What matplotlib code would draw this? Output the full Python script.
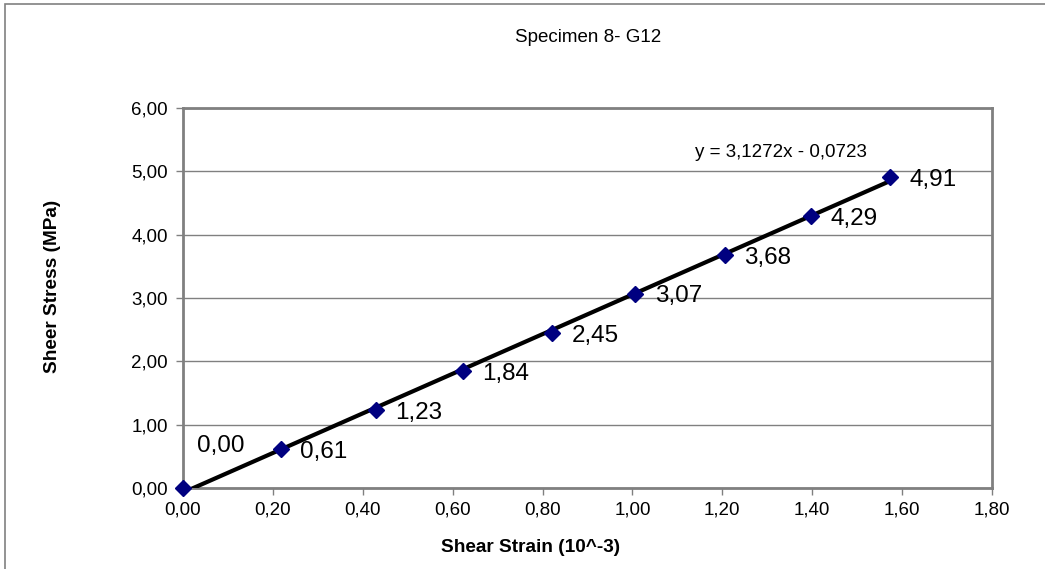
import matplotlib.pyplot as plt
import numpy as np
from matplotlib.ticker import FuncFormatter

plt.rcParams['font.family'] = ['Liberation Sans', 'DejaVu Sans']

# strain (10^-3) and stress (MPa)
strain = [0.0, 0.218, 0.429, 0.623, 0.821, 1.006, 1.206, 1.397, 1.573]
stress = [0.00, 0.61, 1.23, 1.84, 2.45, 3.07, 3.68, 4.29, 4.91]
slope, intercept = 3.1272, -0.0723

W, H = 1045, 569
fig = plt.figure(figsize=(W / 100, H / 100), dpi=100)
ax = fig.add_axes([183 / W, 1 - 488 / H, (992 - 183) / W, (488 - 108) / H])

# outer chart frame
fig.patches.append(plt.Rectangle((5 / W, -0.1), 1.2, 1 - 4 / H + 0.1,
                                 transform=fig.transFigure, fill=False,
                                 edgecolor='#808080', linewidth=1.2))

ax.set_xlim(0, 1.8)
ax.set_ylim(0, 6)
ax.set_xticks(np.arange(0, 1.81, 0.2))
ax.set_yticks(np.arange(0, 6.01, 1))
comma = FuncFormatter(lambda v, p: f"{v:.2f}".replace('.', ','))
ax.xaxis.set_major_formatter(comma)
ax.yaxis.set_major_formatter(comma)
ax.tick_params(labelsize=13.5, length=5, color='#808080', width=1)
ax.tick_params(axis='y', pad=6)
ax.tick_params(axis='x', pad=5)
ax.yaxis.grid(True, color='#808080', linewidth=1)
ax.set_axisbelow(True)
for s in ax.spines.values():
    s.set_color('#808080')
    s.set_linewidth(2)

# linear trendline
xt = np.array([strain[0], strain[-1]])
ax.plot(xt, slope * xt + intercept, color='black', linewidth=3, zorder=3)

ax.plot(strain, stress, linestyle='none', marker='D', markersize=8,
        color='#000080', zorder=4, clip_on=False)

for x, y in zip(strain, stress):
    label = f"{y:.2f}".replace('.', ',')
    if y == 0:
        ax.annotate(label, (x, y), xytext=(10, 30), textcoords='offset points',
                    fontsize=17.5, va='center', ha='left')
    else:
        ax.annotate(label, (x, y), xytext=(14, -2), textcoords='offset points',
                    fontsize=17.5, va='center', ha='left')

ax.text(1.331, 5.305, "y = 3,1272x - 0,0723", fontsize=13.5, ha='center', va='center')

fig.text(588 / W, 1 - 38 / H, "Specimen 8- G12", fontsize=13.5, ha='center', va='center')
fig.text(531 / W, 1 - 547 / H, "Shear Strain (10^-3)", fontsize=13.7,
         fontweight='bold', ha='center', va='center')
fig.text(53 / W, 1 - 286 / H, "Sheer Stress (MPa)", fontsize=13.7,
         fontweight='bold', ha='center', va='center', rotation=90)

fig.savefig('out.png', dpi=100)
